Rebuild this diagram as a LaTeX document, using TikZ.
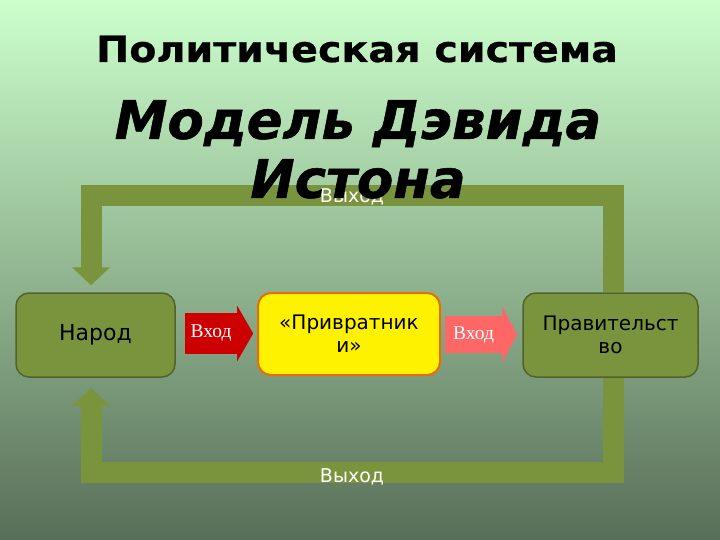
\documentclass[tikz,border=0pt]{standalone}
\usepackage{fontspec}
\setmainfont{DejaVu Sans}
\newfontfamily\serifru{Liberation Serif}
\newfontfamily\titlefont[FakeStretch=1.1,FakeBold=0.6]{DejaVu Sans}
\newfontfamily\modelfont[FakeBold=1]{DejaVu Sans}
\usetikzlibrary{arrows.meta}
\pgfdeclarelayer{bglayer}
\pgfdeclarelayer{looplayer}
\pgfsetlayers{bglayer,looplayer,main}
\definecolor{bgtop}{RGB}{204,255,204}
\definecolor{bgmid}{RGB}{155,200,155}
\definecolor{bgbot}{RGB}{88,110,88}
\definecolor{olive}{RGB}{122,148,61}
\definecolor{olivedark}{RGB}{80,99,40}
\definecolor{gateorange}{RGB}{228,110,10}
\definecolor{inred}{RGB}{204,0,0}
\definecolor{inpink}{RGB}{255,102,102}
\tikzset{
  loopbar/.style={draw=olive, line width=21pt, line join=miter, line cap=butt,
    -{Triangle[width=37pt,length=18pt]}},
  actorbox/.style={draw=olivedark, fill=olive, line width=1.5pt, rounded corners=13pt,
    inner sep=0pt, minimum height=84pt, align=center, font=\fontsize{20}{23}\selectfont},
  gatebox/.style={draw=gateorange, fill=yellow, line width=2pt, rounded corners=13pt,
    inner sep=0pt, minimum width=182pt, minimum height=82pt, align=center,
    font=\fontsize{20}{23}\selectfont},
  inbody/.style={inner sep=0pt, text=white, font=\serifru\fontsize{19.5}{21}\selectfont},
  outlabel/.style={text=white, inner sep=0pt, anchor=base, font=\fontsize{19}{22}\selectfont},
}
\begin{document}
\begin{tikzpicture}[x=1pt,y=-1pt]
\useasboundingbox (0,0) rectangle (720,540);
\begin{pgfonlayer}{bglayer}
\shade[top color=bgtop, middle color=bgmid, bottom color=bgbot] (0,0) rectangle (720,540);
\end{pgfonlayer}

% nodes
\node[actorbox, minimum width=159pt, font=\fontsize{22}{25}\selectfont] (nar) at (95.5,335) {Народ};
\node[gatebox] (gate) at (349,334) {«Привратник\\и»};
\node[actorbox, minimum width=175pt] (gov) at (610.5,335) {Правительст\\во};

% feedback loops (behind boxes)
\coordinate (tr) at (613.5,195.5);
\coordinate (tl) at (91,195.5);
\coordinate (br) at (613.5,472.5);
\coordinate (bl) at (91,472.5);
\begin{pgfonlayer}{looplayer}
\draw[loopbar, shorten >=7pt] (gov.north -| tr) -- (tr) -- (tl) -- (nar.north -| tl);
\draw[loopbar, shorten >=10pt] (gov.south -| br) -- (br) -- (bl) -- (nar.south -| bl);
\end{pgfonlayer}

\node[outlabel] (outtop) at (352,203) {Выход};
\node[outlabel] (outbot) at (352,482) {Выход};

% input arrows
\node[inbody, fill=inred, minimum width=52pt, minimum height=41pt] (in1) at (211,333.5) {Вход};
\fill[inred] ([yshift=7pt]in1.north east) -- ([xshift=16pt]in1.east) -- ([yshift=-7pt]in1.south east) -- cycle;
\node[inbody, fill=inpink, minimum width=57pt, minimum height=37pt] (in2) at (473.5,334.5) {Вход};
\fill[inpink] ([yshift=9pt]in2.north east) -- ([xshift=15pt]in2.east) -- ([yshift=-9pt]in2.south east) -- cycle;

% titles
\node[anchor=base, inner sep=0pt, font=\titlefont\bfseries\fontsize{36}{40}\selectfont] (title) at (357,62) {Политическая система};
\node[anchor=north, inner sep=0pt, align=center, font=\modelfont\bfseries\itshape\fontsize{53}{59}\selectfont] (model) at (358,100) {Модель Дэвида\\Истона};
\end{tikzpicture}
\end{document}
